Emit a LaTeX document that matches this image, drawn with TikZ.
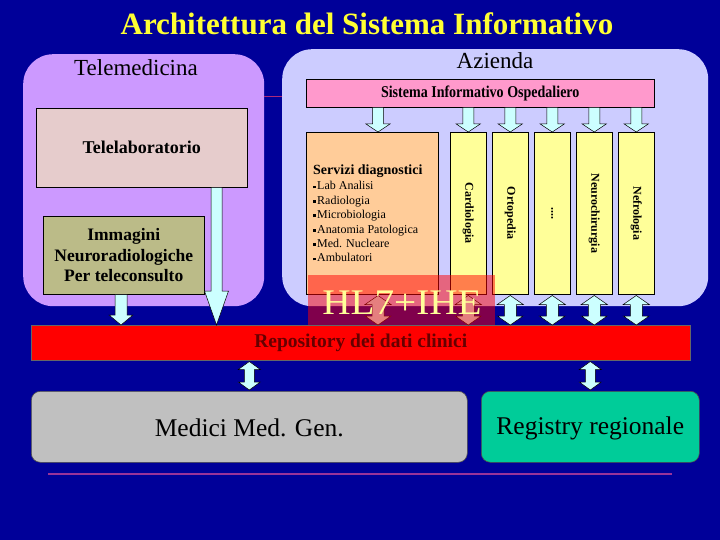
\documentclass[tikz,border=0pt]{standalone}
\usepackage{fontspec}
\setmainfont{Liberation Serif}
\usetikzlibrary{calc}
\definecolor{bg}{HTML}{000099}
\definecolor{lilac}{HTML}{CC99FF}
\definecolor{lav}{HTML}{CCCCFF}
\definecolor{pinkbox}{HTML}{FF99CC}
\definecolor{telebox}{HTML}{E6CCCC}
\definecolor{olivebox}{HTML}{BBBB88}
\definecolor{orangebox}{HTML}{FFCC99}
\definecolor{yelbox}{HTML}{FFFF99}
\definecolor{graybox}{HTML}{C0C0C0}
\definecolor{tealbox}{HTML}{00CC99}
\definecolor{arrc}{HTML}{CCFFFF}
\definecolor{lnc}{HTML}{993399}
\definecolor{titc}{HTML}{FFFF33}
\definecolor{hlc}{HTML}{FFFF99}
\definecolor{reptext}{HTML}{660000}
\newcommand{\fsz}[2]{\fontsize{#1}{#2}\selectfont}
\newcommand{\sqb}{\raisebox{1.6pt}{\rule{2.8pt}{2.8pt}}\hspace{1.2pt}}
\newcommand{\downarr}[5]{%
  \filldraw[arr] let \p1=#1, \p2=#2 in
   (\x1-#3,\y1) -- (\x1-#3,\y2+#5) -- (\x1-#4,\y2+#5) -- (\x1,\y2) --
   (\x1+#4,\y2+#5) -- (\x1+#3,\y2+#5) -- (\x1+#3,\y1) -- cycle;}
\newcommand{\dblarr}[5]{%
  \filldraw[arr] let \p1=#1, \p2=#2 in
   (\x1,\y1) -- (\x1+#4,\y1-#5) -- (\x1+#3,\y1-#5) -- (\x1+#3,\y2+#5) --
   (\x1+#4,\y2+#5) -- (\x2,\y2) -- (\x1-#4,\y2+#5) -- (\x1-#3,\y2+#5) --
   (\x1-#3,\y1-#5) -- (\x1-#4,\y1-#5) -- cycle;}
\tikzset{
  area/.style={fill=#1, draw=none, rounded corners=30pt, inner sep=0, anchor=north west},
  bx/.style={fill=#1, draw=black, line width=0.5pt, inner sep=0, anchor=north west},
  col/.style={bx=yelbox, minimum width=36, minimum height=162},
  coltext/.style={rotate=-90, font=\fsz{12}{14}\bfseries},
  arr/.style={fill=arrc, draw=black, line width=0.5pt},
  rbx/.style={fill=#1, draw=black!70, line width=0.6pt, rounded corners=9pt, inner sep=0, anchor=north west, minimum width=0, minimum height=71}
}
\begin{document}
\begin{tikzpicture}[x=1pt,y=-1pt]
\fill[bg] (0,0) rectangle (720,540);
\useasboundingbox (0,0) rectangle (720,540);

\node[text=titc, font=\fsz{31}{36}\bfseries] (title) at (367,24) {Architettura del Sistema Informativo};

% areas
\node[area=lilac, minimum width=241, minimum height=252] (tele) at (23,54) {};
\node[area=lav, minimum width=426, minimum height=257] (az) at (282,49) {};
\node[font=\fsz{23}{27}] (telel) at (136,68) {Telemedicina};
\node[font=\fsz{23}{27}] (azl) at (495,61) {Azienda};
\draw[color=lnc!80!red, line width=1pt] (tele.east |- 0,97) -- (az.west |- 0,97);

% boxes
\node[bx=pinkbox, minimum width=348, minimum height=28] (sio) at (306,79) {};
\node[font=\fsz{16.5}{19}\bfseries, xscale=0.85] (siot) at (sio.center) {Sistema Informativo Ospedaliero};

\node[bx=telebox, minimum width=211, minimum height=79] (telelab) at (36,108) {};
\node[font=\fsz{18}{21}\bfseries] (telelabt) at (telelab.center) {Telelaboratorio};

\node[bx=olivebox, minimum width=161, minimum height=78] (imm) at (43,216) {};
\node[font=\fsz{17.5}{20.5}\bfseries, align=center] (immt) at (imm.center) {Immagini\\Neuroradiologiche\\Per teleconsulto};

\node[bx=orangebox, minimum width=132, minimum height=162] (serv) at (306,132) {};
\node[anchor=west, inner sep=0, align=left, font=\fsz{12}{14.4}] (servt) at ($(serv.west)+(7,0)$)
 {{\fsz{14}{16}\bfseries Servizi diagnostici}\\[1.5pt]
  \sqb Lab Analisi\\
  \sqb Radiologia\\
  \sqb Microbiologia\\
  \sqb Anatomia Patologica\\
  \sqb Med. Nucleare\\
  \sqb Ambulatori};

\node[col] (c1) at (450,132) {};
\node[col] (c2) at (492,132) {};
\node[col] (c3) at (534,132) {};
\node[col] (c4) at (576,132) {};
\node[col] (c5) at (618,132) {};
\node[coltext] (c1t) at (c1.center) {Cardiologia};
\node[coltext] (c2t) at (c2.center) {Ortopedia};
\node[coltext] (c3t) at (c3.center) {....};
\node[coltext] (c4t) at (c4.center) {Neurochirurgia};
\node[coltext] (c5t) at (c5.center) {Nefrologia};

\node[bx=red, draw=black!60, minimum width=659, minimum height=35] (rep) at (31,325) {};
\node[font=\fsz{19.5}{23}\bfseries, text=reptext] (rept) at ($(rep.center)+(0,0)$) {Repository dei dati clinici};

\node[rbx=graybox, minimum width=436] (med) at (31,391) {};
\node[font=\fsz{25.5}{30}] (medt) at ($(med.center)+(0,1.5)$) {Medici Med. Gen.};
\node[rbx=tealbox, minimum width=218] (reg) at (481,391) {};
\node[font=\fsz{25.5}{30}] (regt) at ($(reg.center)+(0,1.5)$) {Registry regionale};

\coordinate (a1) at ($(serv.north west)+(72,0)$);

% arrows from SIO
\downarr{(a1 |- sio.south)}{(a1)}{5.5pt}{12pt}{8pt}
\downarr{(c1.north |- sio.south)}{(c1.north)}{5.5pt}{12pt}{8pt}
\downarr{(c2.north |- sio.south)}{(c2.north)}{5.5pt}{12pt}{8pt}
\downarr{(c3.north |- sio.south)}{(c3.north)}{5.5pt}{12pt}{8pt}
\downarr{(c4.north |- sio.south)}{(c4.north)}{5.5pt}{12pt}{8pt}
\downarr{(c5.north |- sio.south)}{(c5.north)}{5.5pt}{12pt}{8pt}

% arrows to repository
\dblarr{($(a1 |- serv.south)+(0,1)$)}{(a1 |- rep.north)}{6pt}{13pt}{9pt}
\dblarr{($(c1.south)+(0,1)$)}{(c1.south |- rep.north)}{6pt}{13pt}{9pt}
\dblarr{($(c2.south)+(0,1)$)}{(c2.south |- rep.north)}{6pt}{13pt}{9pt}
\dblarr{($(c3.south)+(0,1)$)}{(c3.south |- rep.north)}{6pt}{13pt}{9pt}
\dblarr{($(c4.south)+(0,1)$)}{(c4.south |- rep.north)}{6pt}{13pt}{9pt}
\dblarr{($(c5.south)+(0,1)$)}{(c5.south |- rep.north)}{6pt}{13pt}{9pt}

\coordinate (a2) at ($(imm.south west)+(78,0)$);
\downarr{(a2)}{(a2 |- rep.north)}{6pt}{12pt}{10pt}
\coordinate (a3) at ($(telelab.south west)+(180.5,0)$);
\downarr{(a3)}{(a3 |- rep.north)}{5.5pt}{12pt}{34pt}

\dblarr{($(med.north |- rep.south)+(0,1)$)}{($(med.north)+(0,-1)$)}{5pt}{11pt}{8pt}
\dblarr{($(reg.north |- rep.south)+(0,1)$)}{($(reg.north)+(0,-1)$)}{5pt}{11pt}{8pt}

% HL7 overlay
\node[fill=red, fill opacity=0.5, draw=none, inner sep=0, anchor=north west, minimum width=187, minimum height=50] (hl) at (308,275) {};
\node[text=hlc, font=\fsz{36}{40}, xscale=1.09] (hlt) at (402,303) {HL7+IHE};

\draw[color=lnc, line width=1.2pt] (48,474) coordinate (l1) -- (672,474) coordinate (l2);
\end{tikzpicture}
\end{document}
